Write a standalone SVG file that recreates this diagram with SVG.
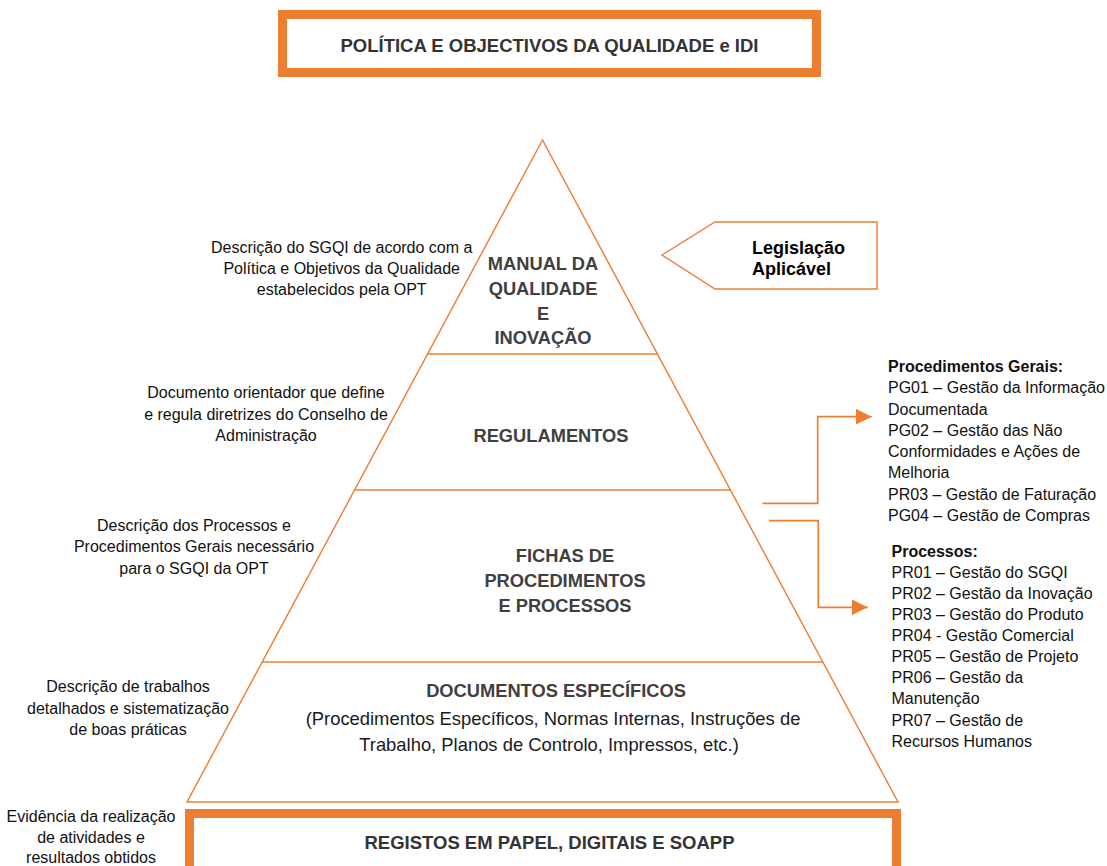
<svg xmlns="http://www.w3.org/2000/svg" width="1107" height="866" viewBox="0 0 1107 866">
<defs>
<style>
.box{fill:#fff;stroke:#ED7D31;stroke-width:9}
.ln{fill:none;stroke:#ED7D31;stroke-width:1.4}
.cn{fill:none;stroke:#ED7D31;stroke-width:1.7}
.bt{font-family:"Liberation Sans",Arial,sans-serif;font-weight:bold;font-size:18.5px;fill:#333;text-anchor:middle}
.ct{font-family:"Liberation Sans",Arial,sans-serif;font-weight:bold;font-size:18.3px;fill:#404040;text-anchor:middle}
.cr{font-family:"Liberation Sans",Arial,sans-serif;font-size:18.4px;fill:#1a1a1a;text-anchor:middle}
.lt{font-family:"Liberation Sans",Arial,sans-serif;font-size:16px;fill:#111;text-anchor:middle}
.rt{font-family:"Liberation Sans",Arial,sans-serif;font-size:16px;fill:#111}
.rb{font-family:"Liberation Sans",Arial,sans-serif;font-size:16px;font-weight:bold;fill:#111}
.lg{font-family:"Liberation Sans",Arial,sans-serif;font-size:18px;font-weight:bold;fill:#000}
</style>
<marker id="ah" viewBox="0 0 16 16" refX="16" refY="8" markerWidth="16" markerHeight="16" markerUnits="userSpaceOnUse" orient="auto">
<path d="M0,0 L16,8 L0,16 Z" fill="#ED7D31"/>
</marker>
</defs>
<rect width="1107" height="866" fill="#fff"/>

<g id="politica">
<rect class="box" x="282.5" y="14.5" width="534" height="58"/>
<text class="bt" x="549.5" y="52">POLÍTICA E OBJECTIVOS DA QUALIDADE e IDI</text>
</g>

<g id="piramide">
<polygon class="ln" points="542.5,140 187,802 898,802"/>
<line class="ln" x1="427.6" y1="354" x2="657.4" y2="354"/>
<line class="ln" x1="354.5" y1="490" x2="730.5" y2="490"/>
<line class="ln" x1="262.2" y1="662" x2="822.8" y2="662"/>
</g>

<g id="manual">
<text class="ct" x="543" y="269.5">MANUAL DA</text>
<text class="ct" x="543" y="294.5">QUALIDADE</text>
<text class="ct" x="543" y="319.5">E</text>
<text class="ct" x="543" y="343.5">INOVAÇÃO</text>
</g>

<g id="regulamentos">
<text class="ct" x="551" y="441.5">REGULAMENTOS</text>
</g>

<g id="fichas">
<text class="ct" x="565" y="561.5">FICHAS DE</text>
<text class="ct" x="565" y="586.5">PROCEDIMENTOS</text>
<text class="ct" x="565" y="611.5">E PROCESSOS</text>
</g>

<g id="documentos">
<text class="ct" x="556" y="696.5">DOCUMENTOS ESPECÍFICOS</text>
<text class="cr" x="553" y="724.5">(Procedimentos Específicos, Normas Internas, Instruções de</text>
<text class="cr" x="549" y="750.5">Trabalho, Planos de Controlo, Impressos, etc.)</text>
</g>

<g id="registos">
<rect class="box" x="189.5" y="813.5" width="707" height="80"/>
<text class="bt" x="549.5" y="848.5">REGISTOS EM PAPEL, DIGITAIS E SOAPP</text>
</g>

<g id="legislacao">
<polygon class="ln" points="662,255 715,222 877,222 877,289 715,289"/>
<text class="lg" x="752" y="254">Legislação</text>
<text class="lg" x="752" y="275">Aplicável</text>
</g>

<g id="desc-manual">
<text class="lt" x="341.7" y="252.5">Descrição do SGQI de acordo com a</text>
<text class="lt" x="341.7" y="273.5">Política e Objetivos da Qualidade</text>
<text class="lt" x="341.7" y="294.5">estabelecidos pela OPT</text>
</g>

<g id="desc-regulamentos">
<text class="lt" x="266" y="398">Documento orientador que define</text>
<text class="lt" x="266" y="419.5">e regula diretrizes do Conselho de</text>
<text class="lt" x="266" y="440.5">Administração</text>
</g>

<g id="desc-fichas">
<text class="lt" x="194" y="530.5">Descrição dos Processos e</text>
<text class="lt" x="194" y="552">Procedimentos Gerais necessário</text>
<text class="lt" x="194" y="573.5">para o SGQI da OPT</text>
</g>

<g id="desc-documentos">
<text class="lt" x="128" y="692">Descrição de trabalhos</text>
<text class="lt" x="128" y="714">detalhados e sistematização</text>
<text class="lt" x="128" y="735">de boas práticas</text>
</g>

<g id="desc-registos">
<text class="lt" x="91" y="821.5">Evidência da realização</text>
<text class="lt" x="91" y="843">de atividades e</text>
<text class="lt" x="91" y="862.5">resultados obtidos</text>
</g>

<g id="proc-gerais">
<text class="rb" x="888" y="372">Procedimentos Gerais:</text>
<text class="rt" x="888" y="393">PG01 – Gestão da Informação</text>
<text class="rt" x="888" y="414.5">Documentada</text>
<text class="rt" x="888" y="435.5">PG02 – Gestão das Não</text>
<text class="rt" x="888" y="457">Conformidades e Ações de</text>
<text class="rt" x="888" y="478">Melhoria</text>
<text class="rt" x="888" y="499.5">PR03 – Gestão de Faturação</text>
<text class="rt" x="888" y="520.5">PG04 – Gestão de Compras</text>
</g>

<g id="processos">
<text class="rb" x="891.5" y="557">Processos:</text>
<text class="rt" x="891.5" y="577.5">PR01 – Gestão do SGQI</text>
<text class="rt" x="891.5" y="598.5">PR02 – Gestão da Inovação</text>
<text class="rt" x="891.5" y="619.5">PR03 – Gestão do Produto</text>
<text class="rt" x="891.5" y="641">PR04 - Gestão Comercial</text>
<text class="rt" x="891.5" y="662">PR05 – Gestão de Projeto</text>
<text class="rt" x="891.5" y="683">PR06 – Gestão da</text>
<text class="rt" x="891.5" y="704">Manutenção</text>
<text class="rt" x="891.5" y="725.5">PR07 – Gestão de</text>
<text class="rt" x="891.5" y="747">Recursos Humanos</text>
</g>

<g id="connectors">
<polyline class="cn" points="762.5,503.3 817.7,503.3 817.7,416.7 871.7,416.7" marker-end="url(#ah)"/>
<polyline class="cn" points="769,520.7 818.3,520.7 818.3,607.3 867.7,607.3" marker-end="url(#ah)"/>
</g>
</svg>
